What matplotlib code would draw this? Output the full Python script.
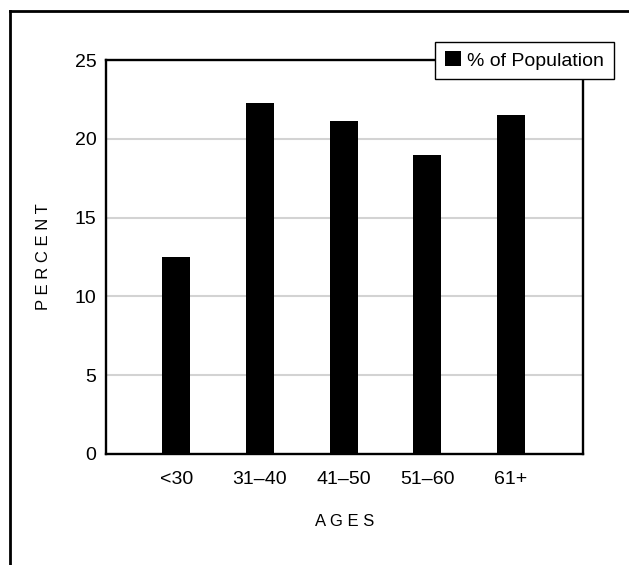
import matplotlib
matplotlib.use('Agg')
import matplotlib.pyplot as plt
from matplotlib import font_manager as fm
from matplotlib.lines import Line2D
import numpy as np

ages = ["<30", "31\u201340", "41\u201350", "51\u201360", "61+"]
population_pct = [12.5, 22.3, 21.1, 19.0, 21.5]
y_ticks = [0, 5, 10, 15, 20, 25]

installed = {f.name for f in fm.fontManager.ttflist}
narrow = 'Liberation Sans Narrow' if 'Liberation Sans Narrow' in installed else 'Liberation Sans'
tick_size = 15 if narrow == 'Liberation Sans Narrow' else 14

fig = plt.figure(figsize=(6.29, 5.65), dpi=100)
ax = fig.add_axes([0.1685, 0.1965, 0.7585, 0.6973])

x = np.arange(len(ages))
ax.bar(x, population_pct, width=0.335, color='black', label='% of Population', zorder=3)

ax.set_xlim(-0.84, 4.86)
ax.set_ylim(0, 25)
ax.set_yticks(y_ticks)
ax.set_xticks(x)
ax.set_xticklabels(ages)
ax.yaxis.grid(True, color='#d3d3d3', linewidth=1.5, zorder=0)
ax.set_axisbelow(True)

for s in ax.spines.values():
    s.set_linewidth(1.7)
ax.tick_params(length=0)
ax.tick_params(axis='y', pad=7)
ax.tick_params(axis='x', pad=12)
for lab in ax.get_xticklabels() + ax.get_yticklabels():
    lab.set_fontfamily(narrow)
    lab.set_fontsize(tick_size)

ax.set_xlabel("A G E S", fontsize=12, family='Liberation Sans', va='center')
ax.set_ylabel("P E R C E N T", fontsize=12, family='Liberation Sans', va='center')
ax.xaxis.set_label_coords(0.5, -0.172)
ax.yaxis.set_label_coords(-0.132, 0.5)

leg = ax.legend(loc='upper right', bbox_to_anchor=(614 / 629, 1 - 41.7 / 565),
                bbox_transform=fig.transFigure, borderaxespad=0, fancybox=False,
                framealpha=1, edgecolor='black', handlelength=0.8, handleheight=0.8,
                handletextpad=0.35, borderpad=0.5,
                prop={'family': narrow, 'size': tick_size})
leg.get_frame().set_linewidth(1.0)
leg.set_zorder(10)

# outer frame: only top and left edges
fig.add_artist(Line2D([10 / 629, 10 / 629], [0, 1 - 11 / 565], color='black',
                      linewidth=2.0, transform=fig.transFigure))
fig.add_artist(Line2D([10 / 629, 1], [1 - 11 / 565, 1 - 11 / 565], color='black',
                      linewidth=2.0, transform=fig.transFigure))

fig.savefig("out.png", dpi=100)
